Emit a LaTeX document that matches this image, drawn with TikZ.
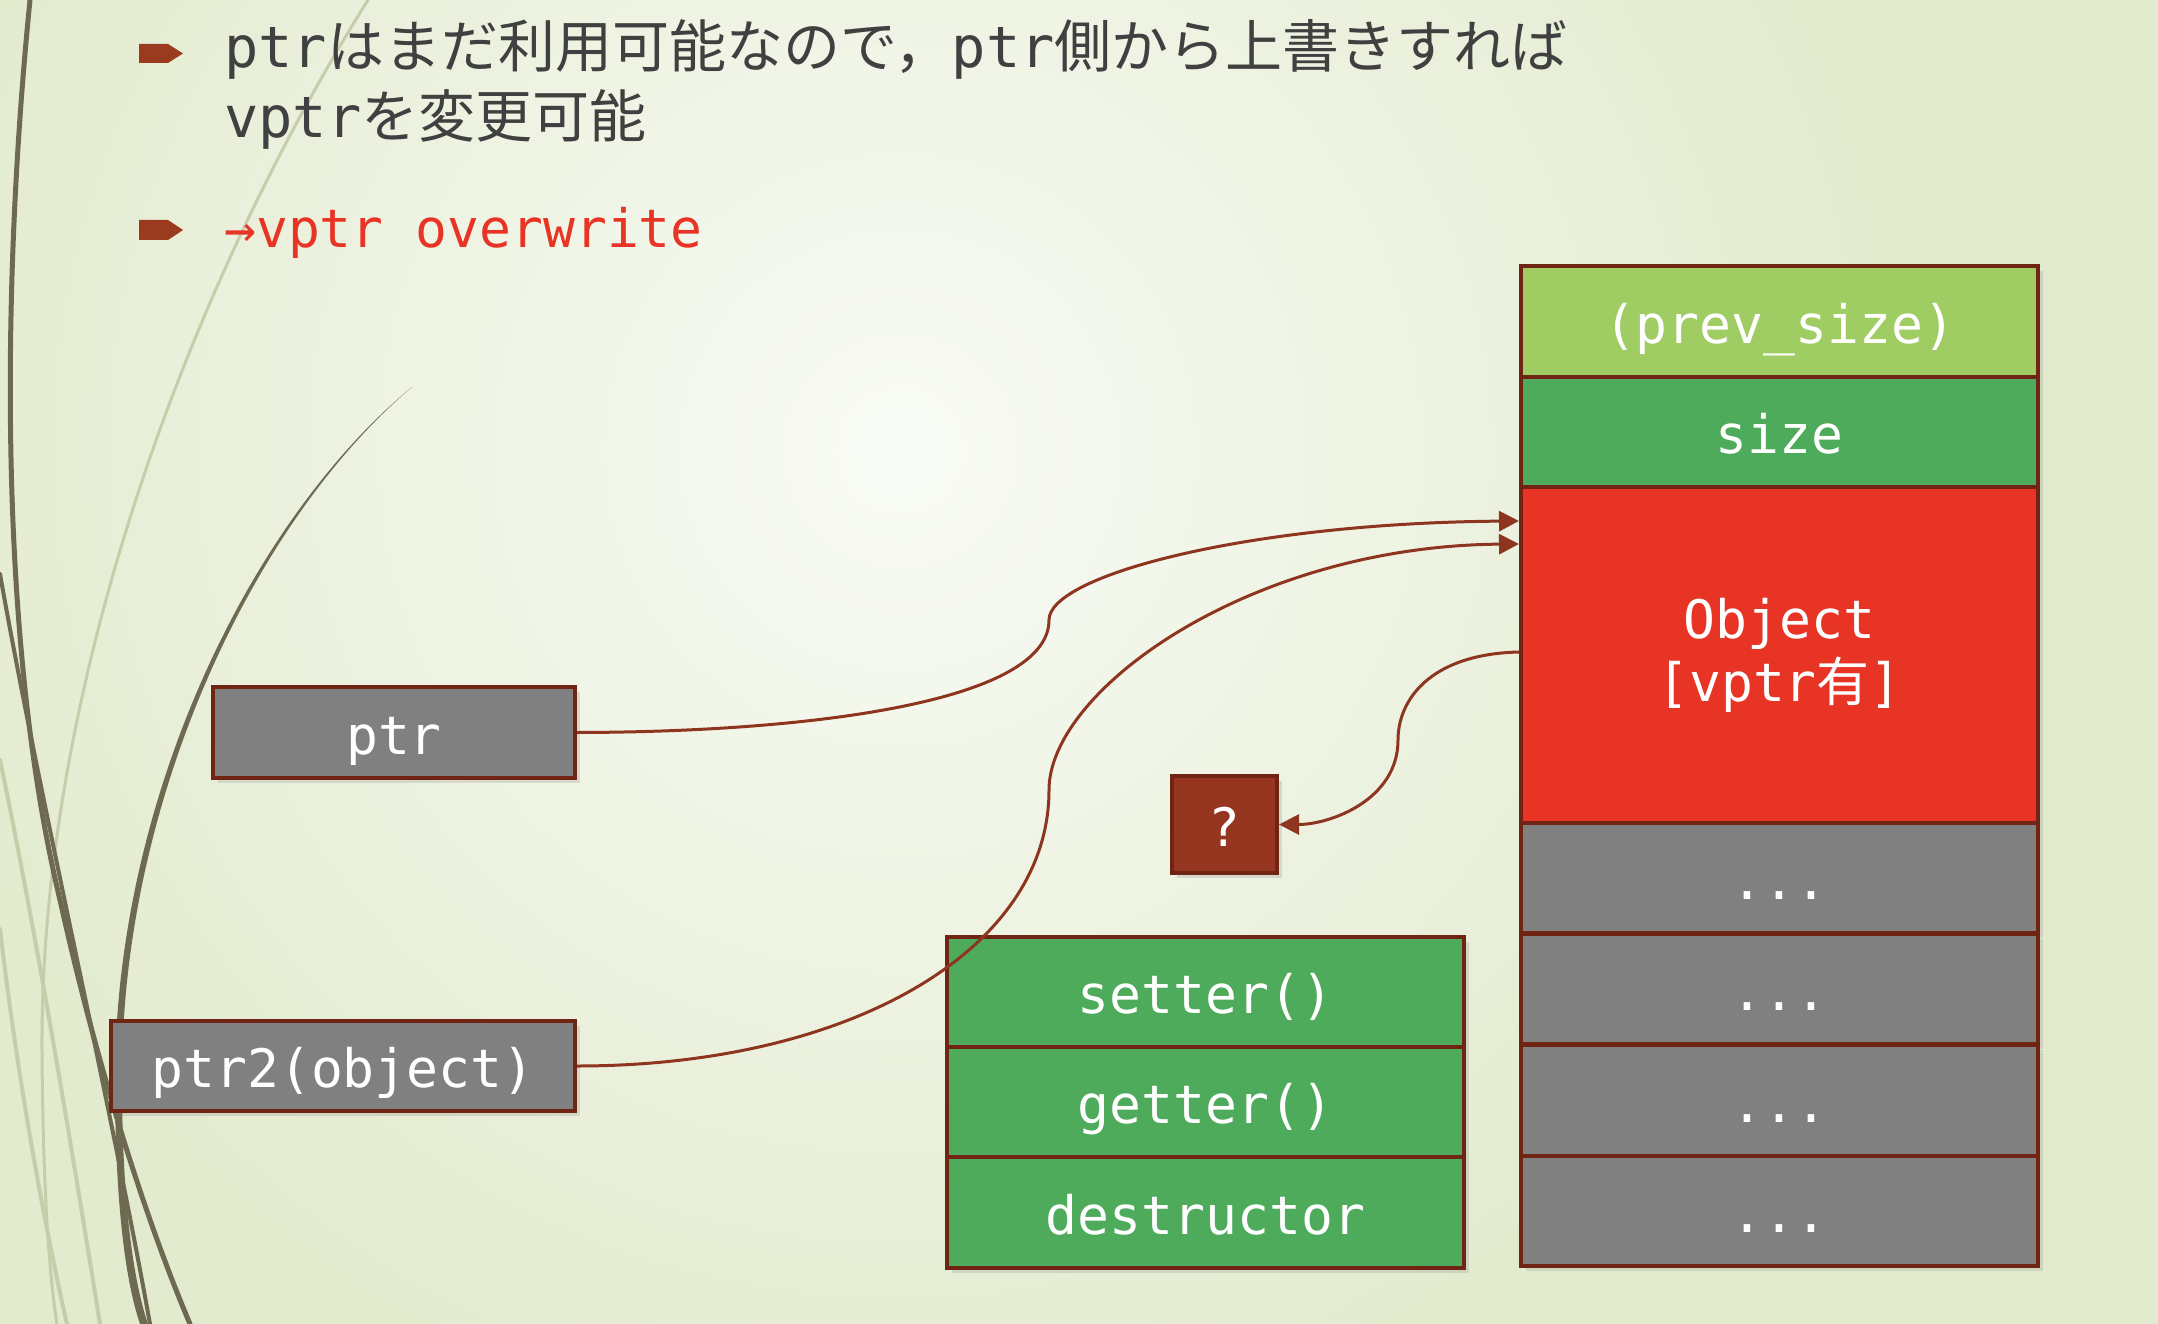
\documentclass[tikz,border=0pt]{standalone}
\usepackage{fontspec}
\newfontfamily\monof{DejaVu Sans Mono}
\newfontfamily\jpf{Noto Sans CJK JP}
\usetikzlibrary{arrows.meta,shadows}
\definecolor{bgbase}{HTML}{E3EBCF}
\definecolor{bgcenter}{HTML}{F9FBF6}
\definecolor{lgreen}{HTML}{A0CD63}
\definecolor{mgreen}{HTML}{4EAB5C}
\definecolor{objred}{HTML}{E83425}
\definecolor{gbox}{HTML}{808080}
\definecolor{qbrown}{HTML}{963520}
\definecolor{bord}{HTML}{6F2414}
\definecolor{arrowc}{HTML}{8E3520}
\definecolor{bullc}{HTML}{9A3A1F}
\definecolor{hdr}{HTML}{404040}
\definecolor{redtxt}{HTML}{E83425}
\definecolor{wispdark}{HTML}{6E6A52}
\definecolor{wisplight}{HTML}{C6CDAB}
\begin{document}
\begin{tikzpicture}[x=1pt,y=-1pt,
  box/.style={draw=bord, line width=4pt, minimum width=517pt, minimum height=110.5pt,
    inner sep=0pt, text=white, font=\monof\fontsize{53}{63}\selectfont,
    drop shadow={shadow xshift=5pt, shadow yshift=-5pt, opacity=0.22}},
  oneline/.style={text height=45pt, text depth=2pt},
  conn/.style={draw=arrowc, line width=3pt, -{Triangle[length=20pt,width=20pt]}},
  hdrtext/.style={anchor=base west, inner sep=0pt, text=hdr, font=\fontsize{57}{70}\selectfont},
  wispd/.style={draw=wispdark, line cap=round},
  wispl/.style={draw=wisplight, line cap=round}]
\useasboundingbox (0,0) rectangle (2158,1324);
% background
\fill[bgbase] (0,0) rectangle (2158,1324);
\begin{scope}
  \clip (0,0) rectangle (2158,1324);
  \shade[inner color=bgcenter, outer color=bgbase] (900,450) circle [radius=1000pt];
  % decorative wisps
  \draw[wispl, line width=3pt] (368,0) .. controls (180,300) and (40,700) .. (42,1050) .. controls (43,1200) and (50,1280) .. (57,1324);
  \draw[wispl, line width=4pt] (0,760) .. controls (40,950) and (80,1200) .. (100,1324);
  \draw[wispl, line width=4pt] (0,929) .. controls (20,1100) and (50,1250) .. (67,1324);
  \draw[wispd, line width=5pt] (30,0) .. controls (0,300) and (0,650) .. (60,900) .. controls (100,1080) and (150,1230) .. (190,1324);
  \draw[wispd, line width=4pt] (0,574) .. controls (40,800) and (110,1100) .. (150,1324);
  \fill[wispdark] (412,387) .. controls (250,520) and (115,800) .. (115,1080)
     .. controls (115,1200) and (125,1280) .. (140,1324) -- (148,1324)
     .. controls (133,1280) and (122,1200) .. (122,1080)
     .. controls (121,800) and (254,521) .. (412,387) -- cycle;
\end{scope}
% bullets
\fill[bullc] (139,44) -- (168,44) -- (183,53.5) -- (168,63) -- (139,63) -- cycle;
\fill[bullc] (139,220) -- (168,220) -- (183,230) -- (168,240) -- (139,240) -- cycle;
% header text
\node[hdrtext] (l1) at (224,68) {\monof ptr\jpf はまだ利用可能なので，\monof ptr\jpf 側から上書きすれば};
\node[hdrtext] (l2) at (224,138) {\monof vptr\jpf を変更可能};
\node[hdrtext, text=redtxt, font=\monof\fontsize{53}{60}\selectfont] (l3) at (224,248) {→vptr overwrite};
% chunk column
\node[box, oneline, fill=lgreen] (prev) at (1779.5,321.5) {(prev\_size)};
\node[box, oneline, fill=mgreen] (size) at (1779.5,432) {size};
\node[box, fill=objred, minimum height=336pt, align=center] (obj) at (1779.5,655) {Object\\{[}vptr{\jpf 有}{]}};
\node[box, oneline, fill=gbox] (d1) at (1779.5,878) {...};
\node[box, oneline, fill=gbox] (d2) at (1779.5,989) {...};
\node[box, oneline, fill=gbox] (d3) at (1779.5,1100.5) {...};
\node[box, oneline, fill=gbox] (d4) at (1779.5,1211) {...};
% vtable
\node[box, oneline, fill=mgreen, minimum height=110pt] (setter) at (1205.5,992) {setter()};
\node[box, oneline, fill=mgreen, minimum height=110pt] (getter) at (1205.5,1102) {getter()};
\node[box, oneline, fill=mgreen, minimum height=111pt] (dtor) at (1205.5,1212.5) {destructor};
% pointers
\node[box, oneline, fill=gbox, minimum width=362pt, minimum height=91pt] (ptr) at (394,732.5) {ptr};
\node[box, oneline, fill=gbox, minimum width=464pt, minimum height=90pt] (ptr2) at (343,1066) {ptr2(object)};
\node[box, oneline, fill=qbrown, minimum width=105pt, minimum height=97pt] (q) at (1224.5,824.5) {?};
% connectors
\coordinate (in1) at ([yshift=-36pt]obj.north west);
\coordinate (in2) at ([yshift=-59pt]obj.north west);
\coordinate (out3) at ([yshift=-167pt]obj.north west);
\draw[conn] (ptr.east) .. controls (820,732) and (1049,700) .. (1049,620) .. controls (1049,575) and (1250,523) .. (in1);
\draw[conn] (ptr2.east) .. controls (850,1066) and (1049,950) .. (1049,790) .. controls (1049,690) and (1250,546) .. (in2);
\draw[conn] (out3) .. controls (1430,654) and (1398,700) .. (1398,740) .. controls (1398,800) and (1330,824.5) .. (q.east);
\end{tikzpicture}
\end{document}
